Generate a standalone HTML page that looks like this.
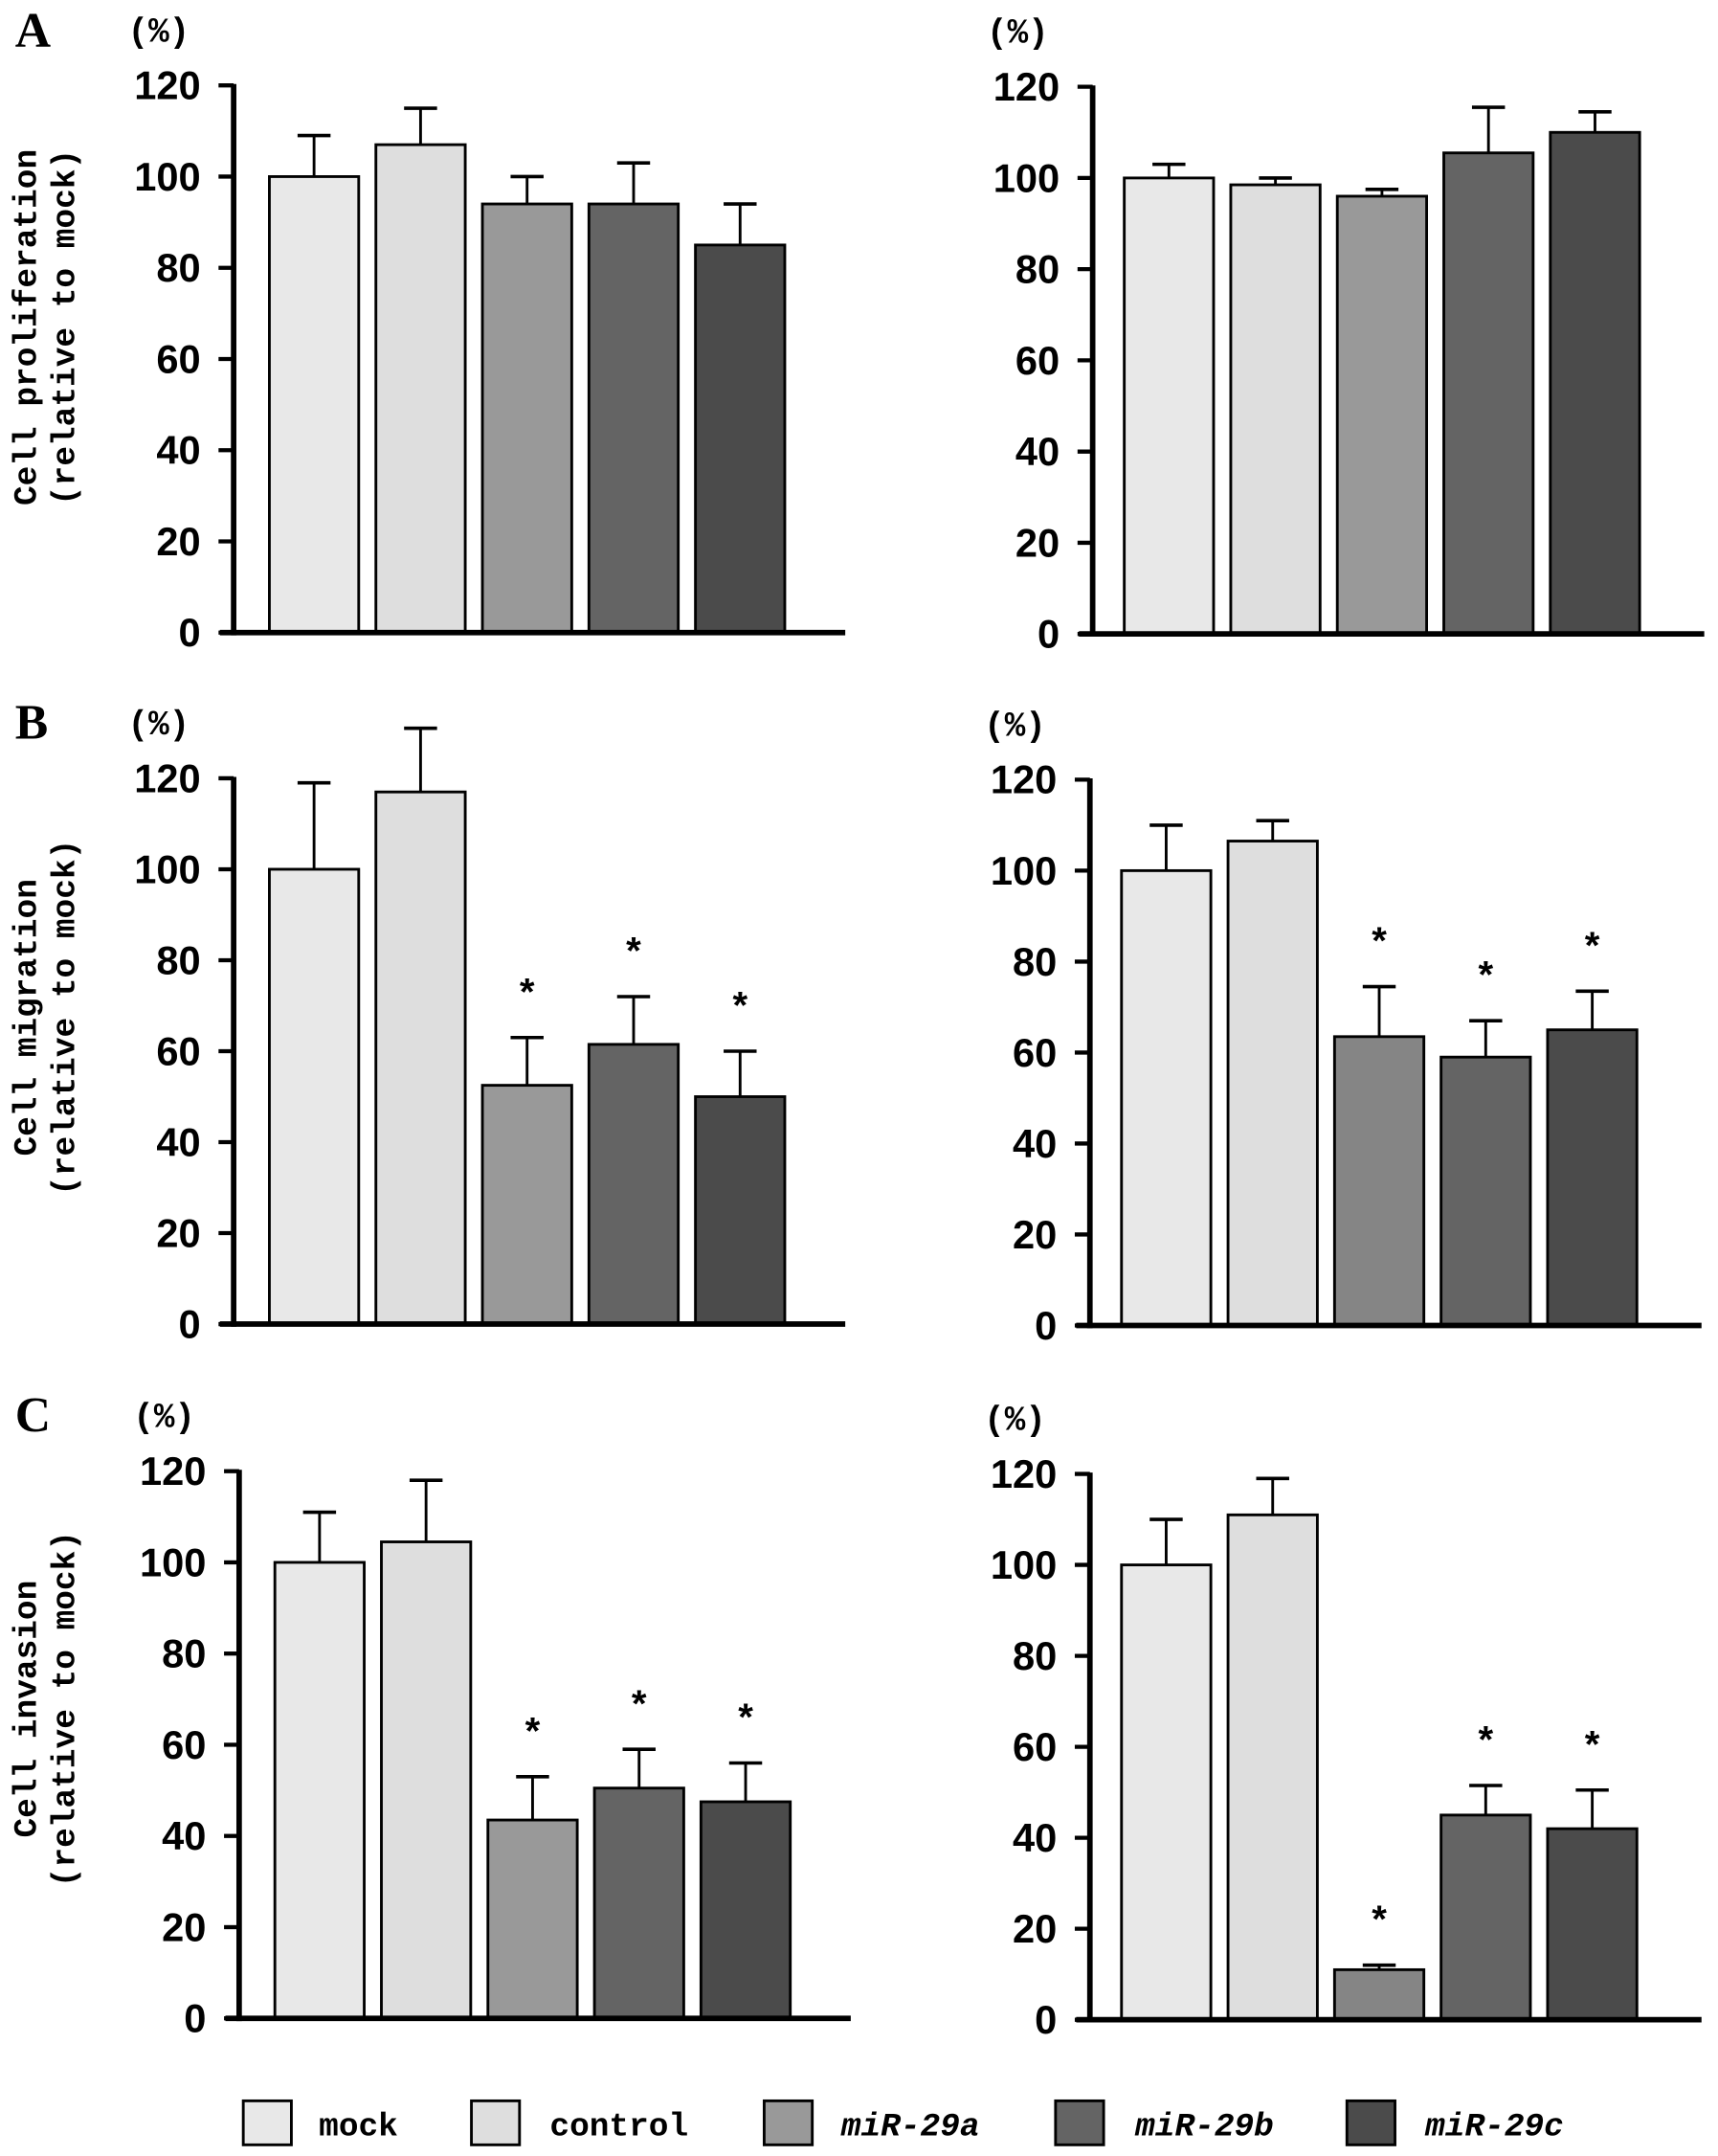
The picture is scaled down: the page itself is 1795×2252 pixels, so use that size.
<!DOCTYPE html>
<html><head><meta charset="utf-8"><style>
html,body{margin:0;padding:0;background:#fff;}
svg{display:block;}
.tick{font-family:"Liberation Sans",sans-serif;font-weight:bold;font-size:29px;}
.mono{font-family:"Liberation Mono",monospace;font-weight:bold;}
</style></head><body>
<svg id="fig" width="1795" height="2252" viewBox="0 0 1250 1568" xmlns="http://www.w3.org/2000/svg"></svg>
<script>
const categories = ["mock","control","miR-29a","miR-29b","miR-29c"];
const tickValues = [0,20,40,60,80,100,120];
const aLeftVals = [100,107,94,94,85];
const aLeftErr = [109,115,100,103,94];
const aRightVals = [100,98.5,96,105.5,110];
const aRightErr = [103,100,97.5,115.5,114.5];
const bLeftVals = [100,117,52.5,61.5,50];
const bLeftErr = [119,131,63,72,60];
const bRightVals = [100,106.5,63.5,59,65];
const bRightErr = [110,111,74.5,67,73.5];
const cLeftVals = [100,104.5,43.5,50.5,47.5];
const cLeftErr = [111,118,53,59,56];
const cRightVals = [100,111,11,45,42];
const cRightErr = [110,119,12,51.5,50.5];
const starsA = [false,false,false,false,false];
const starsBC = [false,false,true,true,true];

const NS="http://www.w3.org/2000/svg";
const svg=document.getElementById('fig');
function mk(tag,attrs,parent){const e=document.createElementNS(NS,tag);for(const k in attrs)e.setAttribute(k,attrs[k]);(parent||svg).appendChild(e);return e;}

function panel(name,ax,yTop,yBot,x0,vals,errs,stars,colors){
  const g=mk('g',{});
  
  
  const y=v=>yBot-(v/120)*(yBot-yTop);
  const bw=65, step=77.5;
  vals.forEach((v,i)=>{
    const bx=x0+i*step, cx=bx+bw/2;
    const eb=mk('line',{x1:cx,x2:cx,y1:y(v),y2:y(errs[i]),stroke:'#000','stroke-width':2},g);
    
    
    const cap=mk('line',{x1:cx-12,x2:cx+12,y1:y(errs[i]),y2:y(errs[i]),stroke:'#000','stroke-width':2.5},g);
    
    
    const r=mk('rect',{x:bx,y:y(v),width:bw,height:yBot-y(v),fill:colors[i],stroke:'#000','stroke-width':2},g);
    
    
    if(stars[i]){
      const s=mk('text',{x:cx,y:y(errs[i])-24,'text-anchor':'middle','font-size':28,'font-family':'Liberation Sans, sans-serif','font-weight':'bold'},g);
      s.textContent='*';
      
      
    }
  });
  const ya=mk('line',{x1:ax,x2:ax,y1:yTop-1,y2:yBot+2,stroke:'#000','stroke-width':4},g);
  
  
  const xa=mk('line',{x1:ax-10,x2:ax+445,y1:yBot,y2:yBot,stroke:'#000','stroke-width':4},g);
  
  
  tickValues.forEach(t=>{
    const tl=mk('line',{x1:ax-11,x2:ax,y1:y(t),y2:y(t),stroke:'#000','stroke-width':3},g);
    
    
    const tx=mk('text',{x:ax-24,y:y(t)+10,'text-anchor':'end',class:'tick'},g);
    tx.textContent=t;
    
    
  });
  const p=mk('text',{x:ax-77,y:yTop-32,class:'mono','font-size':25},g);
  p.textContent='(%)';
  
  
}
const cL=['#e8e8e8','#dedede','#999999','#646464','#4b4b4b'];
const cR=['#e8e8e8','#dedede','#858585','#646464','#4b4b4b'];
panel('panel-a-left',170,62,460,196,aLeftVals,aLeftErr,starsA,cL);
panel('panel-a-right',795,63,461,818,aRightVals,aRightErr,starsA,cL);
panel('panel-b-left',170,566,963,196,bLeftVals,bLeftErr,starsBC,cL);
panel('panel-b-right',793,567,964,816,bRightVals,bRightErr,starsBC,cR);
panel('panel-c-left',174,1070,1468,200,cLeftVals,cLeftErr,starsBC,cL);
panel('panel-c-right',793,1072,1469,816,cRightVals,cRightErr,starsBC,cR);

[['A',34],['B',537],['C',1041]].forEach(([l,yy])=>{
  const t=mk('text',{x:11,y:yy,'font-family':'Liberation Serif, serif','font-weight':'bold','font-size':36});
  t.textContent=l;
  
  
});
[['Cell proliferation',238],['Cell migration',740],['Cell invasion',1243]].forEach(([l,cy])=>{
  const g=mk('g',{transform:`translate(0,${cy}) rotate(-90)`});
  
  
  const a=mk('text',{x:0,y:26,'text-anchor':'middle',class:'mono','font-size':24},g);a.textContent=l;
  const b=mk('text',{x:0,y:54,'text-anchor':'middle',class:'mono','font-size':24},g);b.textContent='(relative to mock)';
});
const legX=[177,343,556,768,980], legTX=[232,400,612,826,1037];
categories.forEach((c,i)=>{
  const r=mk('rect',{x:legX[i],y:1528,width:35,height:32,fill:cL[i],stroke:'#000','stroke-width':2});
  
  
  const t=mk('text',{x:legTX[i],y:1553,class:'mono','font-size':24,'font-style':i>1?'italic':'normal'});
  t.textContent=c;
  
  
});
</script>
</body></html>
